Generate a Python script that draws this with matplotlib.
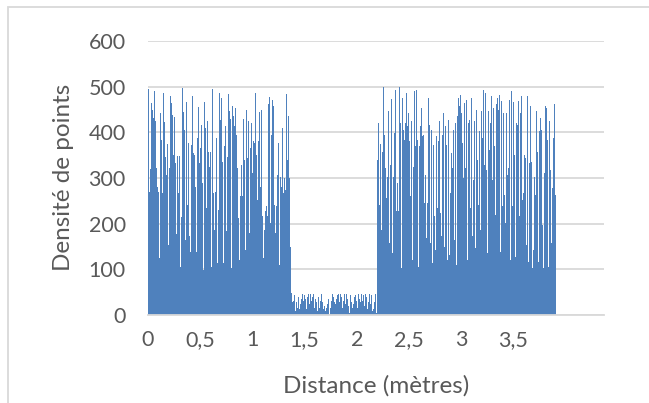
import numpy as np
import matplotlib
matplotlib.use("Agg")
import matplotlib.pyplot as plt
from matplotlib.patches import Rectangle

# ---- data ----
left_block = [495, 270, 320, 464, 450, 431, 491, 424, 322, 281, 270, 124, 442, 384, 267, 487,
              422, 347, 307, 375, 153, 322, 479, 464, 439, 351, 433, 333, 178, 349, 267, 349,
              106, 214, 497, 444, 406, 164, 466, 241, 376, 172, 139, 373, 480, 355, 351, 281,
              139, 387, 455, 333, 366, 417, 289, 99, 466, 409, 234, 424, 356, 325, 358, 106,
              495, 267, 186, 270,
              387, 113, 230, 487, 428, 475, 336, 113, 369, 413, 183, 347, 485, 446, 429, 102,
              457, 436, 413, 453, 395, 322, 212, 121, 260, 329, 260, 429, 340, 143, 450, 344,
              424, 179, 366, 420, 311, 380, 376, 487, 351, 252, 380, 444, 281, 450, 216, 124,
              186, 227, 238, 216, 461, 477, 201, 395, 471, 457, 241, 179, 238, 307, 376, 110,
              303, 281, 409, 267, 300, 274, 485, 340, 436, 300, 150]
gap_block = [48, 28, 31, 43, 9, 28, 16, 39, 13, 24, 35, 46, 31, 43, 35, 13, 39, 46, 24, 46,
             31, 39, 46, 16, 46, 35, 28, 9, 39, 16, 31, 46, 28, 13, 20, 9, 16, 24, 35, 1,
             16, 31, 46, 39, 28, 24, 35, 43, 46, 28, 46, 40, 16, 31, 45, 24, 46, 35, 20, 5,
             43, 28, 16, 24, 39, 43, 31, 16, 46, 35, 28, 46, 31, 43, 20, 46, 39, 13, 28, 46,
             24, 43, 9, 13, 28, 46, 5]
right_block = [340, 420, 241, 375, 186, 358, 499, 395, 322, 256, 303, 446, 157, 329, 473, 135,
               303, 398, 493, 227, 289, 227, 499, 420, 102, 475, 406, 384, 420, 486, 413, 442,
               380, 260, 424, 121, 325, 490, 369, 492, 384, 106, 369, 413, 453, 391, 395, 245,
               307, 168, 245, 475, 417, 157, 406, 113, 373, 216, 143, 391, 234, 380, 424,
               223, 172, 395, 442, 150, 413, 373, 121, 428, 132, 267, 355, 322, 406, 164, 420,
               110, 435, 475, 457, 482, 442, 376, 300, 464, 322, 471, 121, 420, 428, 234, 475,
               172, 296, 424, 146, 450, 340, 241, 402, 186, 446, 387, 493, 329, 487, 318, 135,
               446, 362, 420, 479, 296, 453, 369, 219, 461, 475, 450, 482, 139, 468, 238, 442,
               263, 201,
               442, 307, 322, 471, 121, 490, 238, 466, 351, 128, 420, 417, 468, 216, 442, 479,
               252, 267, 351, 344, 153, 480, 117, 333, 457, 336, 102, 143, 303, 263, 446, 358,
               117, 402, 431, 406, 197, 102, 311, 457, 454, 384, 106, 424, 318, 157, 278, 387,
               461, 263]
density = left_block + gap_block + right_block
step_m = 0.00955                      # bin width in metres
x_ticks = [0, 0.5, 1, 1.5, 2, 2.5, 3, 3.5]
x_tick_labels = ["0", "0,5", "1", "1,5", "2", "2,5", "3", "3,5"]
y_ticks = [0, 100, 200, 300, 400, 500, 600]

# ---- figure ----
W, H = 649, 403
fig = plt.figure(figsize=(W / 100, H / 100), dpi=100)
fig.patch.set_facecolor("white")

# chart-area border
fig.add_artist(Rectangle((8 / W, -0.05), 1.1, 1 - 7 / H + 0.05, transform=fig.transFigure,
                         fill=False, edgecolor="#d9d9d9", linewidth=1.3))

ax = fig.add_axes([148 / W, 1 - 315 / H, (604 - 148) / W, (315 - 41) / H])
dist = np.arange(len(density)) * step_m
ax.bar(dist, density, width=step_m, align="edge", color="#4f81bd", linewidth=0, zorder=2)

ax.set_xlim(0, (604 - 148) / 104.4)
ax.set_ylim(0, 600)
ax.set_yticks(y_ticks)
ax.set_xticks(x_ticks)
ax.set_xticklabels(x_tick_labels)
ax.grid(axis="y", color="#d9d9d9", linewidth=1.3, zorder=0)
ax.set_axisbelow(True)
for s in ["left", "right", "top"]:
    ax.spines[s].set_visible(False)
ax.spines["bottom"].set_color("#d9d9d9")
ax.spines["bottom"].set_linewidth(1.3)
ax.tick_params(axis="both", length=0, colors="#595959", labelsize=15.5)
ax.tick_params(axis="x", pad=11)
ax.tick_params(axis="y", pad=16)
for lab in ax.get_xticklabels() + ax.get_yticklabels():
    lab.set_family("Lato")

fig.text(376 / W, 1 - 386 / H, "Distance (mètres)", ha="center", va="center",
         fontsize=17.5, color="#595959", family="Lato")
fig.text(64 / W, 1 - 177 / H, "Densité de points", ha="center", va="center",
         rotation=90, fontsize=17.5, color="#595959", family="Lato")

fig.savefig("out.png", dpi=100, facecolor="white")
